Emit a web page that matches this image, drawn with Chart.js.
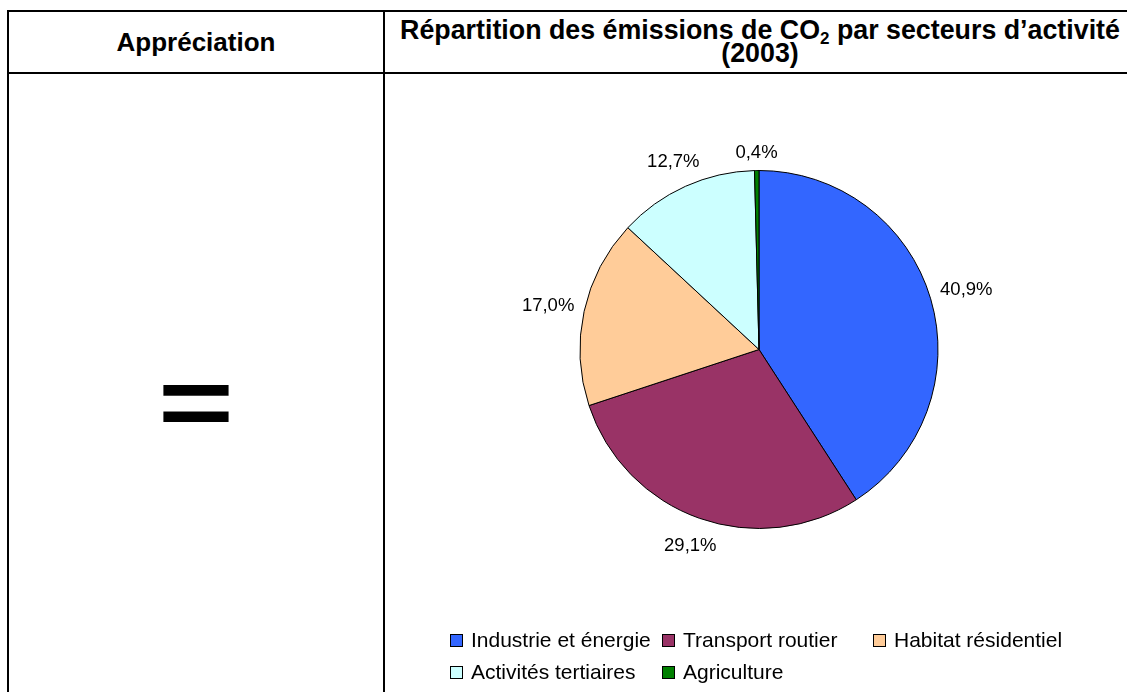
<!DOCTYPE html>
<html lang="fr">
<head>
<meta charset="utf-8">
<script src="https://cdn.jsdelivr.net/npm/chart.js@4/dist/chart.umd.min.js"></script>
<style>
  body { margin: 0; background: #fff; font-family: "Liberation Sans", Arial, sans-serif; }
  .line { position: absolute; background: #000; }
  .cell { position: absolute; display: flex; align-items: center; justify-content: center; text-align: center; }
  .head { font-weight: bold; font-size: 26px; color: #000; }
  #title { line-height: 23px; font-size: 26.8px; }
  #title sub { font-size: 17px; line-height: 0; vertical-align: -5px; }
  #equal { font-size: 130px; line-height: 130px; font-weight: bold; }
  #equal span { display: inline-block; transform: scaleY(0.76); }
  #chartBox { position: absolute; left: 384px; top: 74px; width: 750px; height: 552px; }
  #legend { position: absolute; left: 450px; top: 624px; display: grid;
            grid-template-columns: 212px 211px auto; font-size: 21px; line-height: 32px; color: #000; }
  .item { display: flex; align-items: center; white-space: nowrap; }
  .box { width: 11px; height: 11px; border: 1px solid #000; margin-right: 8px; }
</style>
</head>
<body>
<!-- cadre du tableau -->
<div class="line" style="left:7px;top:10px;width:1130px;height:2px"></div>
<div class="line" style="left:7px;top:10px;width:2px;height:700px"></div>
<div class="line" style="left:7px;top:72px;width:1130px;height:2px"></div>
<div class="line" style="left:383px;top:10px;width:2px;height:700px"></div>
<div class="line" style="left:1135px;top:10px;width:2px;height:700px"></div>

<div class="cell head" style="left:9px;top:12px;width:374px;height:60px">Appréciation</div>
<div id="title" class="cell head" style="left:385px;top:12px;width:750px;height:60px">
  <div>Répartition des émissions de CO<sub>2</sub> par secteurs d’activité<br>(2003)</div></div>
<div id="equal" class="cell" style="left:9px;top:337px;width:374px;height:130px"><span>=</span></div>

<div id="chartBox"><canvas id="pie"></canvas></div>
<div id="legend"></div>

<script>
const secteurs = ["Industrie et énergie", "Transport routier", "Habitat résidentiel", "Activités tertiaires", "Agriculture"];
const parts = [40.9, 29.1, 17.0, 12.7, 0.4];
const couleurs = ["#3366FF", "#993366", "#FFCC99", "#CCFFFF", "#008000"];

function fmt(v) {
  return v.toFixed(1).replace(".", ",") + "%";
}

// étiquettes à l'extérieur du camembert
const outsideLabels = {
  id: "outsideLabels",
  afterDatasetsDraw(chart) {
    const ctx = chart.ctx;
    const meta = chart.getDatasetMeta(0);
    ctx.save();
    ctx.font = "18.5px 'Liberation Sans', Arial, sans-serif";
    ctx.fillStyle = "#000";
    ctx.textAlign = "center";
    ctx.textBaseline = "middle";
    meta.data.forEach(function(arc, i) {
      const p = arc.getProps(["x", "y", "startAngle", "endAngle", "outerRadius"], true);
      const mid = (p.startAngle + p.endAngle) / 2;
      const ux = Math.cos(mid), uy = Math.sin(mid);
      const txt = fmt(parts[i]);
      const w = ctx.measureText(txt).width;
      const d = p.outerRadius + 9 + Math.abs(ux) * w / 2 + Math.abs(uy) * 10.5;
      ctx.fillText(txt, p.x + ux * d, p.y + uy * d + 2);
    });
    ctx.restore();
  }
};

new Chart(document.getElementById("pie"), {
  type: "pie",
  data: {
    labels: secteurs,
    datasets: [{
      data: parts,
      backgroundColor: couleurs,
      borderColor: "#000",
      borderWidth: 1
    }]
  },
  options: {
    responsive: true,
    maintainAspectRatio: false,
    animation: false,
    layout: { padding: { top: 96, bottom: 97 } },
    plugins: { legend: { display: false }, tooltip: { enabled: false } }
  },
  plugins: [outsideLabels]
});

// légende façon Excel
const legend = document.getElementById("legend");
secteurs.forEach(function(s, i) {
  const it = document.createElement("div");
  it.className = "item";
  const b = document.createElement("span");
  b.className = "box";
  b.style.background = couleurs[i];
  it.appendChild(b);
  it.appendChild(document.createTextNode(s));
  legend.appendChild(it);
});
</script>
</body>
</html>
